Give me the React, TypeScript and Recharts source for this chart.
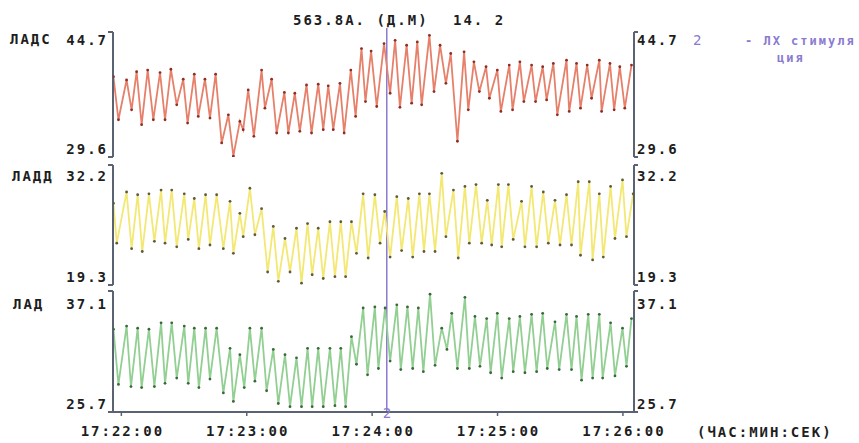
import React from 'react';
import { LineChart, Line, XAxis, YAxis, ReferenceLine } from 'recharts';

// ---- data (seconds after 17:22:00) ----
const timeTicks = [0, 60, 120, 180, 240];
const timeLabels = ['17:22:00', '17:23:00', '17:24:00', '17:25:00', '17:26:00'];
const stimTime = 127;
const stimLabel = '2';

const ladsT = [-3.8, -1.4, 2.5, 4.9, 7.3, 9.7, 12.6, 15.3, 18.5, 20.9, 23.7, 26.5, 29.6, 31.7, 34.9, 36.8, 40.0, 42.4, 45.1, 48.0, 51.2, 53.6, 56.7, 58.3, 60.7, 63.4, 67.1, 68.7, 71.9, 74.3, 78.0, 79.9, 83.0, 85.4, 88.6, 91.0, 94.2, 96.6, 99.0, 101.4, 104.6, 106.6, 109.8, 112.1, 114.9, 116.8, 119.5, 122.2, 125.7, 128.6, 131.0, 133.3, 136.5, 138.9, 141.6, 143.7, 147.4, 149.6, 152.5, 155.3, 157.6, 160.8, 164.0, 166.0, 168.7, 171.3, 174.5, 176.1, 179.9, 181.6, 185.6, 187.2, 190.7, 192.6, 196.3, 198.2, 201.6, 203.5, 206.7, 208.6, 213.0, 214.3, 217.8, 219.7, 222.9, 225.0, 228.7, 229.8, 233.8, 235.8, 238.5, 240.9, 244.1];
const ladsV = [39.3, 34.1, 38.9, 35.3, 39.9, 33.5, 40.1, 34.1, 39.8, 34.1, 40.2, 35.9, 39.0, 33.7, 39.6, 34.5, 39.0, 34.3, 39.6, 31.3, 34.7, 29.7, 33.9, 32.9, 37.7, 32.1, 40.1, 35.5, 39.0, 32.5, 37.4, 32.5, 37.3, 32.7, 38.3, 32.5, 38.4, 32.9, 38.2, 32.9, 38.5, 32.5, 40.1, 34.5, 42.7, 36.3, 42.4, 35.7, 43.3, 37.3, 43.7, 35.6, 43.1, 36.1, 43.5, 35.9, 44.3, 37.5, 43.1, 38.5, 42.1, 31.5, 42.3, 35.3, 41.1, 37.5, 40.5, 36.7, 40.1, 35.1, 40.7, 35.3, 41.1, 36.3, 40.7, 36.3, 40.5, 36.5, 40.9, 34.7, 41.3, 35.1, 40.9, 35.5, 40.7, 36.7, 41.3, 35.1, 40.9, 35.3, 40.5, 35.5, 40.7];

const laddT = [-3.8, -2.2, 2.5, 4.9, 7.8, 10.0, 13.2, 15.8, 19.0, 20.9, 24.1, 26.5, 30.1, 32.0, 34.9, 37.1, 40.3, 42.4, 45.6, 48.8, 52.0, 53.6, 56.7, 58.3, 61.5, 63.9, 67.1, 70.0, 72.7, 75.1, 78.3, 80.7, 83.8, 86.2, 89.1, 91.3, 94.2, 96.6, 99.8, 102.2, 105.0, 107.3, 110.1, 112.5, 115.7, 118.1, 121.3, 123.8, 126.0, 128.6, 131.8, 134.1, 137.3, 139.4, 142.6, 144.8, 147.4, 150.1, 153.3, 155.3, 158.9, 161.2, 164.4, 166.5, 169.7, 172.4, 175.1, 177.2, 180.4, 182.0, 185.2, 187.5, 191.5, 193.1, 196.3, 198.7, 201.9, 204.3, 207.5, 209.9, 213.0, 215.4, 218.6, 219.7, 223.9, 225.5, 228.7, 230.6, 234.1, 236.2, 239.8, 241.7, 244.9];
const laddV = [28.1, 23.8, 29.3, 23.2, 29.0, 22.9, 29.1, 24.0, 29.5, 23.8, 29.5, 23.4, 29.1, 24.2, 28.6, 23.2, 29.0, 23.6, 29.0, 23.2, 28.3, 22.7, 27.0, 24.5, 29.7, 24.7, 27.5, 20.7, 25.6, 19.7, 24.3, 20.7, 25.4, 19.5, 25.9, 20.4, 25.4, 20.0, 26.1, 20.2, 26.1, 20.2, 26.1, 22.7, 29.1, 22.2, 29.0, 23.8, 27.2, 22.3, 28.8, 23.0, 28.6, 22.3, 29.1, 22.9, 29.1, 22.9, 31.3, 24.5, 29.5, 22.2, 29.9, 23.8, 30.1, 23.8, 28.4, 23.6, 30.1, 23.4, 30.1, 24.2, 28.3, 23.4, 29.9, 23.4, 29.3, 23.8, 28.4, 23.6, 29.0, 23.6, 30.4, 22.5, 30.4, 22.0, 29.1, 22.3, 29.9, 24.3, 30.6, 24.5, 29.1];

const ladT = [-3.8, -1.4, 2.5, 4.6, 7.8, 9.7, 13.2, 15.8, 19.0, 20.9, 24.1, 26.5, 30.1, 32.0, 34.9, 37.1, 40.3, 42.4, 45.6, 48.8, 52.0, 53.6, 56.7, 58.8, 61.5, 63.9, 67.1, 69.5, 72.7, 75.1, 78.3, 80.7, 83.8, 86.2, 89.1, 91.3, 94.2, 96.6, 99.8, 102.2, 105.0, 107.3, 110.1, 112.5, 115.7, 117.8, 121.3, 123.0, 126.2, 128.6, 131.8, 133.7, 136.9, 139.4, 142.1, 144.5, 147.7, 150.1, 153.3, 155.8, 158.1, 160.8, 164.4, 166.5, 169.2, 171.6, 174.8, 176.7, 179.9, 182.0, 185.6, 187.5, 190.7, 193.1, 196.3, 198.7, 201.6, 203.8, 207.5, 209.5, 213.0, 215.4, 217.8, 220.2, 223.4, 225.5, 228.7, 230.3, 234.1, 236.2, 239.8, 241.7, 244.1];
const ladV = [33.5, 28.3, 33.8, 28.1, 33.6, 28.0, 33.5, 28.1, 34.1, 28.4, 34.1, 28.9, 33.8, 28.4, 33.6, 28.0, 33.6, 28.8, 33.6, 27.5, 31.7, 26.7, 31.1, 28.0, 33.6, 28.6, 33.6, 27.7, 31.6, 26.5, 31.1, 26.2, 30.8, 26.2, 31.7, 26.2, 31.7, 26.2, 31.7, 26.3, 31.7, 26.2, 32.8, 30.2, 35.5, 29.2, 35.6, 29.8, 35.5, 30.5, 35.8, 29.7, 35.6, 29.8, 35.5, 29.5, 36.8, 30.1, 33.6, 31.6, 35.0, 29.8, 36.5, 29.8, 34.7, 30.0, 34.5, 29.4, 35.0, 28.9, 34.5, 29.5, 34.7, 29.4, 34.9, 29.5, 35.0, 29.8, 34.2, 29.7, 34.9, 29.7, 34.7, 28.7, 34.9, 28.9, 34.9, 28.9, 34.1, 29.1, 33.6, 30.0, 34.5];

const panelNames = ['ЛАДС', 'ЛАДД', 'ЛАД'];
const panelMins = [29.6, 19.3, 25.7];
const panelMaxs = [44.7, 32.2, 37.1];

// ---- layout / style ----
const W = 859;
const H = 443;
const PLOT_LEFT = 113;
const PLOT_RIGHT = 634;
const Y_W = 50;
const FONT = '"DejaVu Sans Mono", "Liberation Mono", monospace';
const AXIS = '#5a6373';
const PURPLE = '#8a7ad0';
const TXT = '#1e1e1e';
const X_DOMAIN: [number, number] = [-4, 245.3];

const zip = (t: number[], v: number[]) => t.map((tt, i) => ({ t: tt, v: v[i] }));

const panels = [
  { name: panelNames[0], data: zip(ladsT, ladsV), min: panelMins[0], max: panelMaxs[0], top: 32, bottom: 157, stroke: '#e6806a', dot: '#922d22', topDy: 13, nameY: 44, nameX: 10 },
  { name: panelNames[1], data: zip(laddT, laddV), min: panelMins[1], max: panelMaxs[1], top: 165, bottom: 285, stroke: '#f3e873', dot: '#5e5a3a', topDy: 16, nameY: 181, nameX: 12 },
  { name: panelNames[2], data: zip(ladT, ladV), min: panelMins[2], max: panelMaxs[2], top: 291, bottom: 412, stroke: '#92cf92', dot: '#3a683a', topDy: 18, nameY: 309, nameX: 13 },
];

const txtStyle = { fontFamily: FONT, fontSize: 14, fontWeight: 700, letterSpacing: 2 } as const;

function YTick(props: any) {
  const { x, y, payload, side, p } = props;
  const isTop = Math.abs(payload.value - p.max) < 1e-6;
  const dy = isTop ? p.topDy : -3;
  const left = side === 'left';
  return (
    <text x={left ? x + 2 : x - 3} y={y + dy} textAnchor={left ? 'end' : 'start'} fill={TXT} style={txtStyle}>
      {payload.value.toFixed(1)}
    </text>
  );
}

function XTick(props: any) {
  const { x, y, payload } = props;
  const idx = timeTicks.indexOf(payload.value);
  return (
    <text x={x + 1} y={y + 18} textAnchor="middle" fill={TXT} style={txtStyle}>
      {timeLabels[idx]}
    </text>
  );
}

export default function App() {
  const mk = panels[2];
  return (
    <div style={{ position: 'absolute', left: 0, top: 0, width: W, height: H, background: '#fff' }}>
      {/* stimulus marker spanning all panels */}
      <div style={{ position: 'absolute', left: 0, top: 0 }}>
        <LineChart
          width={W}
          height={H}
          data={mk.data}
          margin={{ top: 28, bottom: H - 412, left: PLOT_LEFT, right: W - PLOT_RIGHT }}
        >
          <XAxis type="number" dataKey="t" domain={X_DOMAIN} allowDataOverflow hide />
          <YAxis domain={[mk.min, mk.max]} allowDataOverflow hide />
          <Line dataKey="v" stroke="none" dot={false} isAnimationActive={false} />
          <ReferenceLine x={stimTime} stroke={PURPLE} strokeWidth={1.5} />
        </LineChart>
      </div>
      {panels.map((p, i) => {
        const last = i === panels.length - 1;
        const xh = last ? 31 : 0;
        return (
          <div key={p.name} style={{ position: 'absolute', left: 0, top: 0 }}>
            <LineChart
              width={W}
              height={H}
              data={p.data}
              margin={{ top: p.top, bottom: H - p.bottom - xh, left: PLOT_LEFT - Y_W, right: W - PLOT_RIGHT - Y_W }}
            >
              <XAxis
                type="number"
                dataKey="t"
                domain={X_DOMAIN}
                allowDataOverflow
                ticks={timeTicks}
                height={xh}
                axisLine={{ stroke: AXIS, strokeWidth: 2 }}
                tickLine={last ? { stroke: AXIS, strokeWidth: 1.5 } : false}
                tickSize={4}
                tick={last ? <XTick /> : false}
              />
              <YAxis
                yAxisId="l"
                orientation="left"
                width={Y_W}
                domain={[p.min, p.max]}
                ticks={[p.min, p.max]}
                allowDataOverflow
                axisLine={{ stroke: AXIS, strokeWidth: 2 }}
                tickLine={{ stroke: AXIS, strokeWidth: 2 }}
                tickSize={5}
                tick={<YTick side="left" p={p} />}
              />
              <YAxis
                yAxisId="r"
                orientation="right"
                width={Y_W}
                domain={[p.min, p.max]}
                ticks={[p.min, p.max]}
                allowDataOverflow
                axisLine={{ stroke: AXIS, strokeWidth: 2 }}
                tickLine={{ stroke: AXIS, strokeWidth: 2 }}
                tickSize={4}
                tick={<YTick side="right" p={p} />}
              />
              <Line
                yAxisId="l"
                type="linear"
                dataKey="v"
                stroke={p.stroke}
                strokeWidth={1.8}
                dot={{ r: 1.4, fill: p.dot, stroke: 'none' }}
                isAnimationActive={false}
              />
            </LineChart>
          </div>
        );
      })}
      <svg width={W} height={H} style={{ position: 'absolute', left: 0, top: 0, pointerEvents: 'none' }}>
        <text x={293} y={25} fill={TXT} style={txtStyle}>563.8А. (Д.М)</text>
        <text x={453} y={25} fill={TXT} style={txtStyle}>14. 2</text>
        {panels.map((p) => (
          <text key={p.name} x={p.nameX} y={p.nameY} fill={TXT} style={txtStyle}>{p.name}</text>
        ))}
        <text x={693} y={45} fill={PURPLE} style={{ ...txtStyle, fontWeight: 400 }}>{stimLabel}</text>
        <text x={745} y={45} fill={PURPLE} style={{ fontFamily: FONT, fontSize: 12, fontWeight: 700, letterSpacing: 2 }}>- ЛХ стимуля</text>
        <text x={777} y={62} fill={PURPLE} style={{ fontFamily: FONT, fontSize: 12, fontWeight: 700, letterSpacing: 2 }}>ция</text>
        <text x={388} y={418} textAnchor="middle" fill={PURPLE} style={{ ...txtStyle, fontWeight: 400 }}>{stimLabel}</text>
        <text x={697} y={437} fill={TXT} style={txtStyle}>(ЧАС:МИН:СЕК)</text>
      </svg>
    </div>
  );
}
